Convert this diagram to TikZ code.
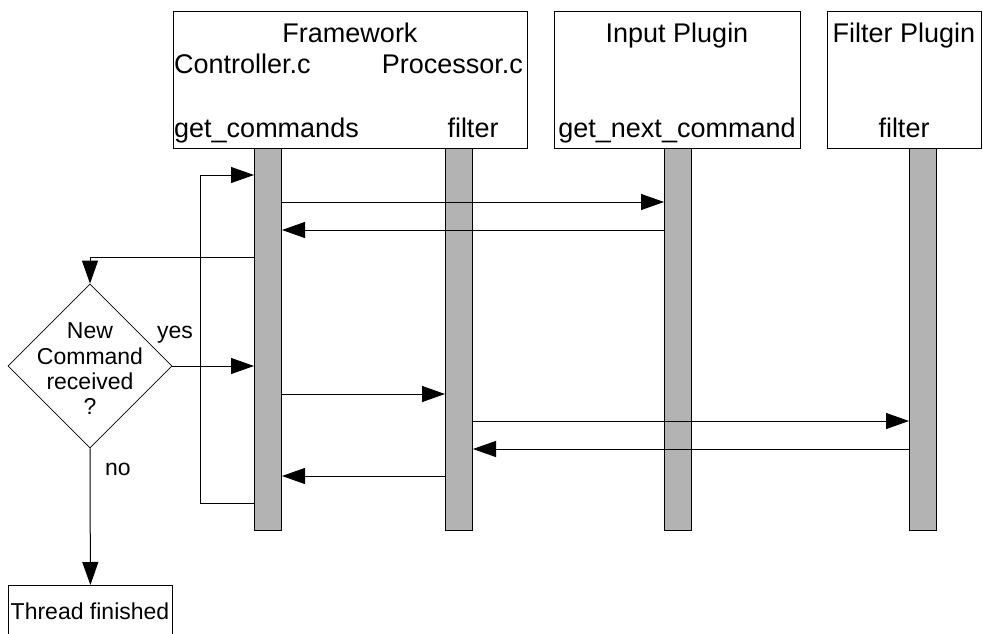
\documentclass[tikz,border=0pt]{standalone}
\usepackage{fontspec}
\setmainfont{Liberation Sans}
\usetikzlibrary{arrows.meta,shapes.geometric}
\definecolor{barfill}{RGB}{179,179,179}
\begin{document}
\begin{tikzpicture}[x=1pt,y=-1pt,
  box/.style={draw,line width=1pt,rectangle,inner sep=0pt,anchor=north west,fill=white},
  lifebar/.style={draw,line width=1pt,fill=barfill,rectangle,inner sep=0pt,anchor=north west,minimum width=27pt,minimum height=382pt},
  head/.style={inner sep=0pt,font=\fontsize{27}{30}\selectfont},
  small/.style={inner sep=0pt,font=\fontsize{23}{25.3}\selectfont},
  arr/.style={line width=1pt,-{Triangle[length=23pt,width=16pt]}},
  conn/.style={line width=1pt}]
\useasboundingbox (0,0) rectangle (983,634);
% header boxes
\node[box,minimum width=354pt,minimum height=137pt] (fw) at (173,11) {};
\node[box,minimum width=246pt,minimum height=137pt] (ip) at (554,11) {};
\node[box,minimum width=154pt,minimum height=137pt] (fp) at (827,11) {};
% header texts
\node[head,anchor=base] (tfw) at (350,43) {Framework};
\node[head,anchor=base west] (tctl) at (174,74) {Controller.c};
\node[head,anchor=base east] (tproc) at (523,74) {Processor.c};
\node[head,anchor=base west] (tgc) at (174,137) {get\_commands};
\node[head,anchor=base] (tfil1) at (473,137) {filter};
\node[head,anchor=base] (tip) at (677,43) {Input Plugin};
\node[head,anchor=base] (tgnc) at (677,137) {get\_next\_command};
\node[head,anchor=base] (tfp) at (904,43) {Filter Plugin};
\node[head,anchor=base] (tfil2) at (904,137) {filter};
% life bars
\node[lifebar] (b1) at (254,148) {};
\node[lifebar] (b2) at (445,148) {};
\node[lifebar] (b3) at (664,148) {};
\node[lifebar] (b4) at (909,148) {};
% decision
\node[draw,line width=0.8pt,diamond,aspect=1,inner sep=0pt,minimum width=164pt,minimum height=164pt] (dia) at (90,366) {};
\node[small,align=center,anchor=center] (tdia) at (90,369) {New\\Command\\received\\?};
\node[small,anchor=base] (tyes) at (175,338) {yes};
\node[small,anchor=base] (tno) at (118,475) {no};
\node[box,line width=0.8pt,minimum width=164pt,minimum height=60pt] (thr) at (8,585) {};
\node[small,anchor=base] (tthr) at (90,619) {Thread finished};
% loop
\coordinate (lx) at (200,0);
\draw[arr] (b1.west |- 0,503) -- (lx |- 0,503) -- (lx |- 0,175) -- (b1.west |- 0,175);
% messages
\draw[arr] (b1.east |- 0,202) -- (b3.west |- 0,202);
\draw[arr] (b3.west |- 0,230) -- (b1.east |- 0,230);
\draw[arr] (b1.west |- 0,257) -| (dia.north);
\draw[arr] (dia.east) -- (b1.west |- dia.east);
\draw[arr] (b1.east |- 0,394) -- (b2.west |- 0,394);
\draw[arr] (b2.east |- 0,421) -- (b4.west |- 0,421);
\draw[arr] (b4.west |- 0,449) -- (b2.east |- 0,449);
\draw[arr] (b2.west |- 0,476) -- (b1.east |- 0,476);
\draw[arr] (dia.south) -- (thr.north);
\end{tikzpicture}
\end{document}
